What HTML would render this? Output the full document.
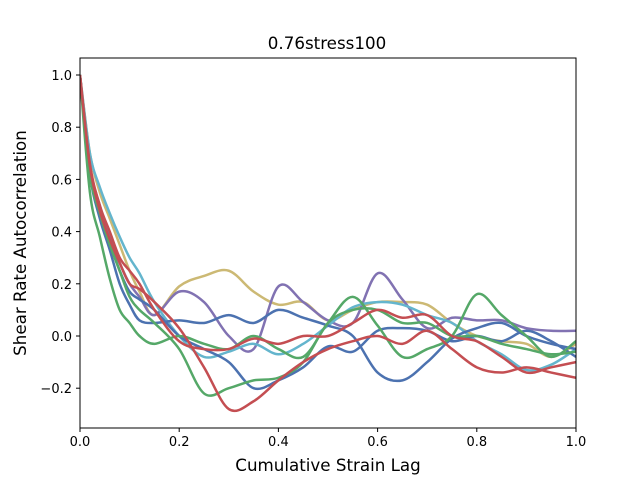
<!DOCTYPE html>
<html><head><meta charset="utf-8"><style>
body{margin:0;background:#fff;font-family:"Liberation Sans","DejaVu Sans",sans-serif}
svg text{font-family:"DejaVu Sans","Liberation Sans",sans-serif}
</style></head><body>
<svg id="chart" width="640" height="480">
<rect width="640" height="480" fill="#fff"/>
<text x="327" y="49" font-size="16.7" text-anchor="middle">0.76stress100</text>
<g id="plot"></g>
<g id="axes"></g>
<text x="328" y="471" font-size="16.7" text-anchor="middle">Cumulative Strain Lag</text>
<text transform="translate(26,243) rotate(-90)" font-size="16.7" text-anchor="middle">Shear Rate Autocorrelation</text>
</svg>
<script>
const xs=[0,.02,.04,.06,.08,.1,.12,.15,.2,.25,.3,.35,.4,.45,.5,.55,.6,.65,.7,.75,.8,.85,.9,.95,1];
const seriesNames=["yellow","purple","cyan","blue-a","blue-b","green-a","green-b","red-a","red-b"];
const seriesColors=["#ccb974","#8172b2","#64b5cd","#4c72b0","#4c72b0","#55a868","#55a868","#c44e52","#c44e52"];
const yellow=[1,.7,.55,.45,.35,.25,.17,.08,.19,.23,.25,.17,.12,.13,.06,.1,.13,.13,.12,.05,0,-.02,-.03,-.08,-.03];
const purple=[1,.65,.5,.38,.28,.2,.15,.08,.17,.13,0,-.05,.19,.13,.06,.05,.24,.14,.03,.07,.06,.06,.03,.02,.02];
const cyan=[1,.7,.57,.47,.38,.3,.24,.13,0,-.08,-.06,-.03,-.07,-.03,.04,.11,.13,.12,.08,.05,-.02,-.07,-.13,-.11,-.05];
const blueA=[1,.62,.45,.33,.2,.12,.06,.05,.06,.05,.08,.05,.1,.07,.04,0,-.14,-.17,-.1,-.01,.03,.05,0,-.03,-.05];
const blueB=[1,.63,.47,.36,.25,.17,.14,.1,0,-.05,-.1,-.2,-.17,-.12,-.04,-.06,.02,.03,.02,-.02,0,-.02,.02,-.02,-.08];
const greenA=[1,.55,.38,.22,.1,.05,0,-.03,0,-.03,-.05,0,-.05,-.08,.05,.15,.04,-.08,-.05,0,.16,.08,0,-.08,-.02];
const greenB=[1,.62,.47,.35,.25,.15,.1,.05,-.05,-.22,-.2,-.17,-.16,-.1,.05,.1,.1,.05,.05,0,0,-.03,-.05,-.07,-.06];
const redA=[1,.65,.48,.37,.28,.2,.18,.13,.03,-.12,-.28,-.25,-.17,-.1,-.05,-.02,0,-.03,.02,-.05,-.12,-.14,-.12,-.14,-.16];
const redB=[1,.66,.5,.4,.3,.25,.2,.1,-.02,-.05,-.05,-.01,-.03,0,0,.05,.1,.07,.08,0,-.02,-.08,-.14,-.12,-.1];
const allSeries=[yellow,purple,cyan,blueA,blueB,greenA,greenB,redA,redB];
const xTicks=[0,0.2,0.4,0.6,0.8,1.0];
const xTickLabels=["0.0","0.2","0.4","0.6","0.8","1.0"];
const yTicks=[-0.2,0,0.2,0.4,0.6,0.8,1.0];
const yTickLabels=["\u22120.2","0.0","0.2","0.4","0.6","0.8","1.0"];

const L=80,R=576,T=58,B=428;
const X=v=>L+(R-L)*v;
const Y=v=>336-261*v;
const NS="http://www.w3.org/2000/svg";
const plot=document.getElementById('plot'), axes=document.getElementById('axes');
function mk(t,a,p){const e=document.createElementNS(NS,t);for(const k in a)e.setAttribute(k,a[k]);p.appendChild(e);return e;}
const cp=mk('clipPath',{id:'cp'},plot);mk('rect',{x:L,y:T,width:R-L,height:B-T},cp);
allSeries.forEach((s,i)=>{
  const pts=s.map((v,j)=>[X(xs[j]),Y(v)]);
  let d="M"+pts[0][0]+","+pts[0][1];
  for(let j=0;j<pts.length-1;j++){
    const p0=pts[Math.max(0,j-1)],p1=pts[j],p2=pts[j+1],p3=pts[Math.min(pts.length-1,j+2)];
    const c1=[p1[0]+(p2[0]-p0[0])/6,p1[1]+(p2[1]-p0[1])/6],c2=[p2[0]-(p3[0]-p1[0])/6,p2[1]-(p3[1]-p1[1])/6];
    d+=` C${c1[0]},${c1[1]} ${c2[0]},${c2[1]} ${p2[0]},${p2[1]}`;
  }
  const path=mk('path',{d:d,fill:'none',stroke:seriesColors[i],'stroke-width':2.5,'clip-path':'url(#cp)'},plot);
  
  
});
mk('rect',{x:L,y:T,width:R-L,height:B-T,fill:'none',stroke:'#000','stroke-width':1},axes);
xTicks.forEach((v,i)=>{
  mk('line',{x1:X(v),x2:X(v),y1:B,y2:B+4,stroke:'#000'},axes);
  const t=mk('text',{x:X(v),y:B+18,'font-size':13,'text-anchor':'middle'},axes);t.textContent=xTickLabels[i];
  
  
});
yTicks.forEach((v,i)=>{
  mk('line',{x1:L-4,x2:L,y1:Y(v),y2:Y(v),stroke:'#000'},axes);
  const t=mk('text',{x:L-8,y:Y(v)+5,'font-size':13,'text-anchor':'end'},axes);t.textContent=yTickLabels[i];
  
  
});
</script>
</body></html>
